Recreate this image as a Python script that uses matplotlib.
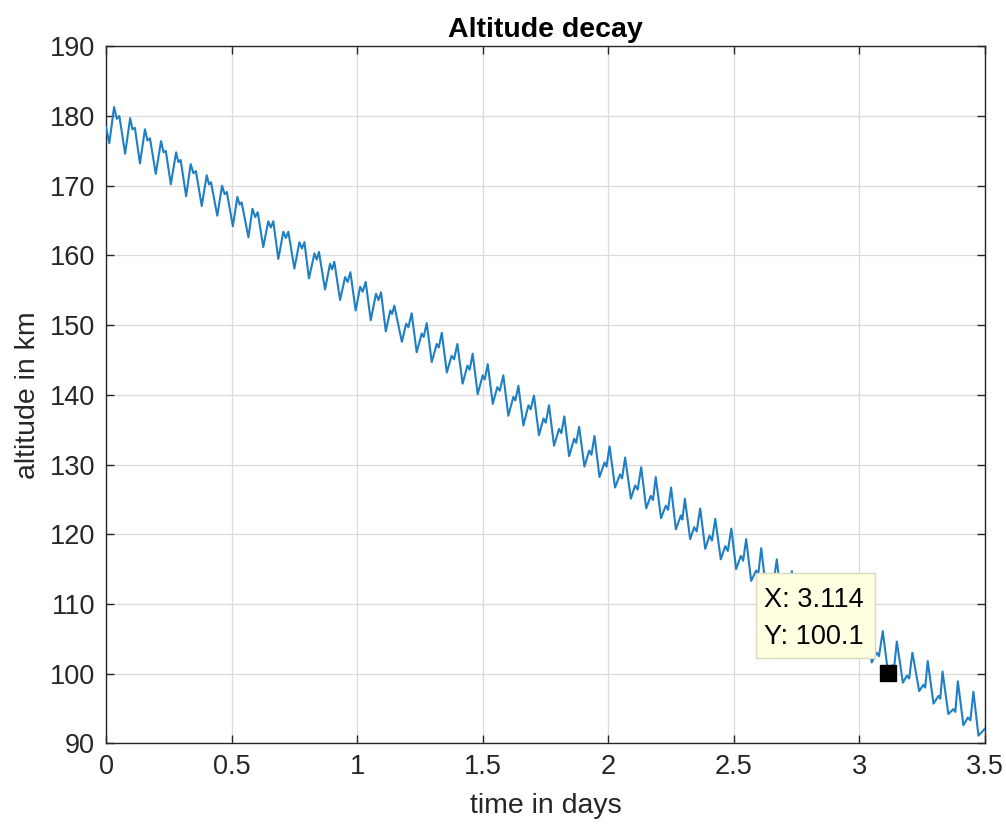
import matplotlib.pyplot as plt
from matplotlib.patches import Rectangle

# vertices of the altitude curve, read off the picture cycle by cycle
# (trough, peak/bump, small dip, shoulder/peak)
t_days = [
    0.000, 0.013, 0.032, 0.043, 0.053,
    0.076, 0.096, 0.105, 0.115,
    0.135, 0.155, 0.165, 0.175,
    0.198, 0.219, 0.229, 0.238,
    0.258, 0.279, 0.288, 0.297,
    0.319, 0.337, 0.348, 0.358,
    0.381, 0.401, 0.410, 0.418,
    0.443, 0.462, 0.472, 0.481,
    0.505, 0.523, 0.532, 0.540,
    0.567, 0.583, 0.594, 0.604,
    0.626, 0.646, 0.656, 0.666,
    0.686, 0.706, 0.716, 0.726,
    0.750, 0.770, 0.780, 0.790,
    0.808, 0.830, 0.839, 0.848,
    0.872, 0.892, 0.900, 0.909,
    0.932, 0.952, 0.962, 0.973,
    0.994, 1.012, 1.022, 1.034,
    1.054, 1.075, 1.085, 1.095,
    1.114, 1.132, 1.139, 1.148,
    1.178, 1.195, 1.204, 1.217,
    1.237, 1.257, 1.265, 1.277,
    1.297, 1.317, 1.325, 1.337,
    1.357, 1.376, 1.386, 1.399,
    1.420, 1.439, 1.448, 1.460,
    1.480, 1.500, 1.508, 1.520,
    1.540, 1.558, 1.568, 1.582,
    1.602, 1.622, 1.630, 1.642,
    1.662, 1.682, 1.691, 1.704,
    1.724, 1.742, 1.751, 1.764,
    1.784, 1.804, 1.813, 1.825,
    1.844, 1.864, 1.872, 1.884,
    1.905, 1.924, 1.933, 1.945,
    1.965, 1.985, 1.993, 2.005,
    2.027, 2.047, 2.055, 2.067,
    2.090, 2.107, 2.117, 2.131,
    2.151, 2.169, 2.178, 2.189,
    2.210, 2.229, 2.238, 2.250,
    2.269, 2.289, 2.295, 2.305,
    2.326, 2.342, 2.352, 2.366,
    2.386, 2.403, 2.413, 2.426,
    2.448, 2.466, 2.476, 2.490,
    2.509, 2.528, 2.537, 2.549,
    2.569, 2.589, 2.597, 2.609,
    2.629, 2.647, 2.657, 2.671,
    2.690, 2.708, 2.718, 2.731,
    2.751, 2.769, 2.779, 2.791,
    2.811, 2.830, 2.840, 2.852,
    2.872, 2.890, 2.900, 2.912,
    2.932, 2.950, 2.960, 2.972,
    2.992, 3.010, 3.020, 3.033,
    3.049, 3.069, 3.078, 3.093,
    3.114, 3.130, 3.138, 3.149,
    3.173, 3.189, 3.198, 3.211,
    3.238, 3.255, 3.262, 3.272,
    3.295, 3.315, 3.322, 3.331,
    3.354, 3.374, 3.382, 3.392,
    3.414, 3.432, 3.442, 3.454,
    3.474, 3.500,
]
alt_km = [
    178.4, 176.1, 181.3, 179.6, 180.0,
    174.6, 179.7, 178.1, 178.3,
    173.2, 178.1, 176.5, 176.8,
    171.7, 176.4, 174.8, 175.0,
    170.2, 174.8, 173.4, 173.7,
    168.5, 173.1, 171.8, 172.1,
    167.1, 171.5, 170.2, 170.5,
    165.7, 170.0, 168.8, 169.1,
    164.2, 168.4, 167.3, 167.6,
    162.6, 166.7, 165.5, 166.2,
    161.2, 164.9, 164.0, 164.9,
    159.5, 163.4, 162.5, 163.4,
    158.1, 161.9, 161.0, 161.9,
    156.7, 160.3, 159.4, 160.5,
    155.1, 158.8, 158.0, 159.1,
    153.6, 156.9, 156.2, 157.6,
    152.1, 155.5, 154.8, 156.2,
    150.7, 154.5, 153.6, 154.7,
    149.1, 152.1, 151.6, 152.8,
    147.6, 150.2, 149.7, 151.7,
    146.1, 148.8, 148.3, 150.3,
    144.7, 147.3, 146.8, 148.9,
    143.2, 145.6, 145.1, 147.3,
    141.6, 144.2, 143.6, 145.9,
    140.1, 142.8, 142.2, 144.4,
    138.7, 141.1, 140.6, 142.8,
    137.0, 139.7, 139.2, 141.3,
    135.6, 138.5, 137.9, 139.9,
    134.2, 136.6, 136.0, 138.5,
    132.7, 135.1, 134.5, 136.9,
    131.2, 133.7, 133.1, 135.4,
    129.7, 132.0, 131.4, 134.1,
    128.2, 130.3, 129.7, 132.6,
    126.7, 128.6, 128.0, 131.0,
    125.1, 127.0, 126.4, 129.6,
    123.7, 125.5, 124.9, 128.2,
    122.3, 124.1, 123.5, 126.7,
    120.7, 122.7, 122.1, 125.1,
    119.3, 121.0, 120.4, 123.7,
    117.9, 119.8, 119.1, 122.2,
    116.4, 118.3, 117.6, 120.8,
    115.0, 116.9, 116.2, 119.3,
    113.3, 114.8, 114.2, 118.0,
    111.8, 113.4, 112.8, 116.4,
    110.3, 111.9, 111.3, 114.7,
    108.8, 110.4, 109.8, 113.2,
    107.3, 108.9, 108.3, 111.7,
    105.8, 107.4, 106.8, 110.2,
    104.3, 105.9, 105.3, 108.7,
    102.8, 104.4, 103.8, 107.3,
    101.6, 103.0, 102.5, 106.1,
    100.1, 101.2, 100.8, 104.6,
    98.7, 99.7, 99.3, 103.0,
    97.5, 98.4, 98.0, 101.8,
    95.7, 96.8, 96.4, 100.3,
    94.2, 94.9, 94.5, 98.9,
    92.6, 93.7, 93.3, 97.4,
    91.1, 92.1,
]

# data tip
tip_t = 3.114
tip_alt = 100.1

x_ticks = [0, 0.5, 1, 1.5, 2, 2.5, 3, 3.5]
x_labels = ['0', '0.5', '1', '1.5', '2', '2.5', '3', '3.5']
y_ticks = [90, 100, 110, 120, 130, 140, 150, 160, 170, 180, 190]

plt.rcParams['font.family'] = ['Liberation Sans', 'DejaVu Sans']

fig = plt.figure(figsize=(10.06, 8.26), dpi=100)
ax = fig.add_axes([0.1054, 0.1001, 0.8737, 0.8438])

ax.plot(t_days, alt_km, color='#1f7fc4', lw=1.5, zorder=3,
        solid_joinstyle='round')
ax.plot([tip_t], [tip_alt], 's', color='black', ms=11, zorder=7)

ax.set_xlim(0, 3.5)
ax.set_ylim(90, 190)
ax.set_xticks(x_ticks)
ax.set_xticklabels(x_labels)
ax.set_yticks(y_ticks)

ax.grid(True, color='#dadada', lw=0.9)
ax.set_axisbelow(True)
ax.tick_params(direction='in', top=True, right=True, length=6, width=1,
               labelsize=19.5, colors='#262626')
ax.tick_params(axis='x', pad=8)
ax.tick_params(axis='y', pad=8)
for s in ax.spines.values():
    s.set_color('#262626')
    s.set_linewidth(1.0)

ax.set_title('Altitude decay', fontsize=20.5, fontweight='bold', pad=7)
ax.set_xlabel('time in days', fontsize=20.5, color='#262626', labelpad=9)
ax.set_ylabel('altitude in km', fontsize=20.5, color='#262626', labelpad=6)

# data tip box (covers the line under it, like the matlab datatip)
ax.add_patch(Rectangle((0.7395, 0.1224), 0.1354, 0.1219, transform=ax.transAxes,
                       facecolor='#FFFFE1', edgecolor='#d8d8c0', lw=1, zorder=5))
ax.text(0.749, 0.206, 'X: %.3f' % tip_t, transform=ax.transAxes, fontsize=19.5,
        va='center', ha='left', zorder=6)
ax.text(0.749, 0.153, 'Y: %.1f' % tip_alt, transform=ax.transAxes, fontsize=19.5,
        va='center', ha='left', zorder=6)

fig.savefig('out.png', dpi=100)
